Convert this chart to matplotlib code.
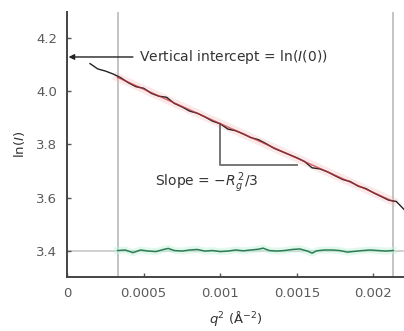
import matplotlib
matplotlib.use('Agg')
import matplotlib.pyplot as plt

plt.rcParams['font.family'] = ['DejaVu Sans']
plt.rcParams['mathtext.fontset'] = 'dejavusans'

# Guinier data: q^2 (1/A^2) against ln(I)
q2 = [0.00015, 0.00020, 0.00025, 0.00030, 0.00035, 0.00040, 0.00045, 0.00050,
      0.00055, 0.00060, 0.00065, 0.00070, 0.00075, 0.00080, 0.00085, 0.00090,
      0.00095, 0.00100, 0.00105, 0.00110, 0.00115, 0.00120, 0.00125, 0.00130,
      0.00135, 0.00140, 0.00145, 0.00150, 0.00155, 0.00160, 0.00165, 0.00170,
      0.00175, 0.00180, 0.00185, 0.00190, 0.00195, 0.00200, 0.00205, 0.00210,
      0.00215, 0.00220]
ln_i = [4.105, 4.085, 4.077, 4.066, 4.052, 4.033, 4.018, 4.012,
        3.993, 3.982, 3.978, 3.955, 3.942, 3.926, 3.918, 3.904,
        3.888, 3.878, 3.858, 3.852, 3.840, 3.826, 3.818, 3.803,
        3.786, 3.774, 3.762, 3.750, 3.736, 3.712, 3.708, 3.697,
        3.682, 3.668, 3.660, 3.643, 3.634, 3.618, 3.604, 3.590,
        3.585, 3.555]

# linear fit over the Guinier region
fit_q2 = [0.00033, 0.00213]
fit_ln_i = [4.053, 3.585]

# residuals, offset to sit on the 3.4 baseline
res_q2 = [0.00033, 0.00038, 0.00043, 0.00048, 0.00053, 0.00058, 0.00063, 0.00066,
          0.00070, 0.00075, 0.00080, 0.00085, 0.00090, 0.00095, 0.00100, 0.00105,
          0.00110, 0.00115, 0.00120, 0.00125, 0.00128, 0.00132, 0.00137, 0.00142,
          0.00147, 0.00152, 0.00157, 0.00160, 0.00163, 0.00168, 0.00173, 0.00178,
          0.00183, 0.00188, 0.00193, 0.00198, 0.00203, 0.00208, 0.00213]
res_ln_i = [3.400, 3.402, 3.392, 3.402, 3.398, 3.396, 3.404, 3.408,
            3.400, 3.398, 3.402, 3.404, 3.398, 3.400, 3.396, 3.398,
            3.402, 3.399, 3.402, 3.405, 3.409, 3.400, 3.398, 3.400,
            3.404, 3.406, 3.398, 3.390, 3.399, 3.402, 3.402, 3.400,
            3.394, 3.397, 3.400, 3.402, 3.400, 3.398, 3.400]

region_edges = [0.00033, 0.00213]
baseline = 3.4
intercept = 4.13

fig = plt.figure(figsize=(4.04, 3.31), dpi=100)
ax = fig.add_axes([0.166, 0.163, 0.834, 0.801])

ax.set_xlim(0, 0.0022)
ax.set_ylim(3.3, 4.3)

for xe in region_edges:
    ax.axvline(xe, color='#c4c4c4', lw=1.4, zorder=1)
ax.axhline(baseline, color='#d0d0d0', lw=1.4, zorder=1)

# fit line with soft glow
ax.plot(fit_q2, fit_ln_i, color='#f4b6b6', lw=6, alpha=0.3, zorder=2)
ax.plot(q2, ln_i, color='#222222', lw=1.0, zorder=3)
ax.plot(fit_q2, fit_ln_i, color='#c0303a', lw=1.1, alpha=0.7, zorder=4)

ax.plot(res_q2, res_ln_i, color='#c4f2dd', lw=5, alpha=0.5, zorder=2)
ax.plot(res_q2, res_ln_i, color='#2f7d55', lw=1.1, zorder=3)

# slope triangle
ax.plot([0.001, 0.001, 0.0015], [3.875, 3.722, 3.722], color='#777777', lw=1.4, zorder=2)
ax.text(0.00091, 3.656, r'Slope = $-R_g^{\,2}$/3', fontsize=10, color='#333333',
        ha='center', va='center')

ax.annotate('', xy=(0.00001, intercept), xytext=(0.00043, intercept),
            arrowprops=dict(arrowstyle='-|>', color='#222222', lw=1.0,
                            mutation_scale=8, shrinkA=0, shrinkB=0))
ax.text(0.00047, intercept, r'Vertical intercept = ln($I$(0))', fontsize=10,
        color='#333333', ha='left', va='center')

ax.set_xticks([0, 0.0005, 0.001, 0.0015, 0.002])
ax.set_xticklabels(['0', '0.0005', '0.001', '0.0015', '0.002'])
ax.set_yticks([3.4, 3.6, 3.8, 4.0, 4.2])
ax.set_yticklabels(['3.4', '3.6', '3.8', '4.0', '4.2'])
ax.tick_params(direction='in', length=3, width=1, colors='#555555',
               labelcolor='#5a5a5a', labelsize=9.5, pad=7)

for side in ['top', 'right']:
    ax.spines[side].set_visible(False)
for side in ['left', 'bottom']:
    ax.spines[side].set_color('#444444')
    ax.spines[side].set_linewidth(1.4)

ax.set_xlabel(r'$q^2$ (Å$^{-2}$)', fontsize=9.5, color='#333333', labelpad=7)
ax.set_ylabel(r'ln($I$)', fontsize=9.5, color='#333333', labelpad=7)

fig.savefig('out.png', dpi=100)
